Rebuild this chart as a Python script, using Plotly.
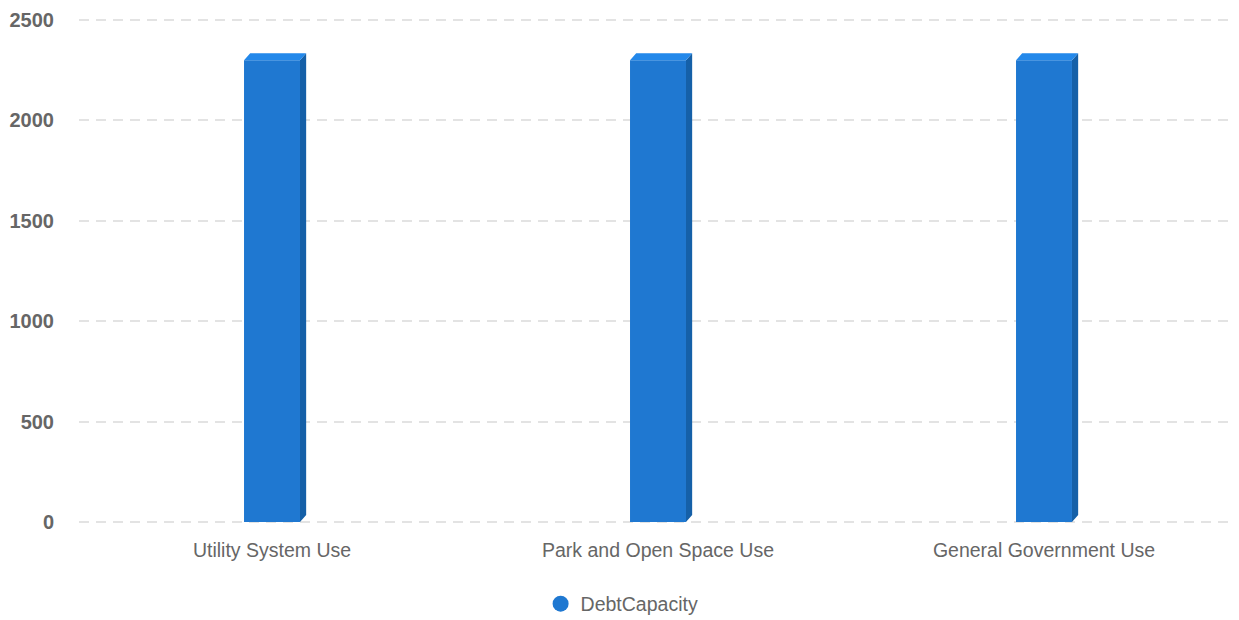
import plotly.graph_objects as go

categories = ["Utility System Use", "Park and Open Space Use", "General Government Use"]
debt_capacity = [2300, 2300, 2300]
y_ticks = [0, 500, 1000, 1500, 2000, 2500]

# geometry of pseudo-3D faces (style constants)
W = 0.145   # front face width in category units
DX = 0.016  # depth offset in x units
DY = 35     # depth offset in y units

front = "#1f78d1"
side = "#1560a8"
top = "#2388ea"

xs = list(range(len(categories)))

fig = go.Figure()

fig.add_trace(go.Bar(x=xs, y=debt_capacity, width=W, marker=dict(color=front, line=dict(width=0)),
                     showlegend=False, hoverinfo="skip"))

# side faces
sx, sy = [], []
for c, v in zip(xs, debt_capacity):
    r = c + W / 2
    sx += [r, r + DX, r + DX, r, r, None]
    sy += [0, DY, v + DY, v, 0, None]
fig.add_trace(go.Scatter(x=sx, y=sy, fill="toself", fillcolor=side, mode="lines",
                         line=dict(width=0, color=side), showlegend=False, hoverinfo="skip"))

# top faces
tx, ty = [], []
for c, v in zip(xs, debt_capacity):
    l = c - W / 2
    r = c + W / 2
    tx += [l, l + DX, r + DX, r, l, None]
    ty += [v, v + DY, v + DY, v, v, None]
fig.add_trace(go.Scatter(x=tx, y=ty, fill="toself", fillcolor=top, mode="lines",
                         line=dict(width=0, color=top), showlegend=False, hoverinfo="skip"))

# legend entry
fig.add_trace(go.Scatter(x=[None], y=[None], mode="markers", name="DebtCapacity",
                         marker=dict(symbol="circle", size=18, color=front)))

fig.update_layout(
    width=1231, height=612,
    margin=dict(l=71, r=2, t=8, b=94, autoexpand=False),
    paper_bgcolor="white", plot_bgcolor="white",
    font=dict(family="Liberation Sans, Arial, sans-serif", color="#666666"),
    xaxis=dict(tickmode="array", tickvals=xs, ticktext=categories, range=[-0.5, 2.5],
               showgrid=False, zeroline=False, showline=False, automargin=False,
               tickfont=dict(size=19.5, color="#666666"), ticks="", ticklabelstandoff=10),
    yaxis=dict(range=[-20, 2520], tickvals=y_ticks, showgrid=True, gridcolor="#e3e3e3",
               griddash="10px,7px", gridwidth=1.5, zeroline=False, showline=False,
               automargin=False,
               tickfont=dict(size=20, color="#666666", weight="bold"), ticks="",
               ticklabelstandoff=24),
    legend=dict(orientation="h", x=0.469, y=-0.153, xanchor="center", yanchor="middle",
                font=dict(size=19.5, color="#666666"), itemsizing="trace"),
    showlegend=True,
)

fig.write_html("out.html")
